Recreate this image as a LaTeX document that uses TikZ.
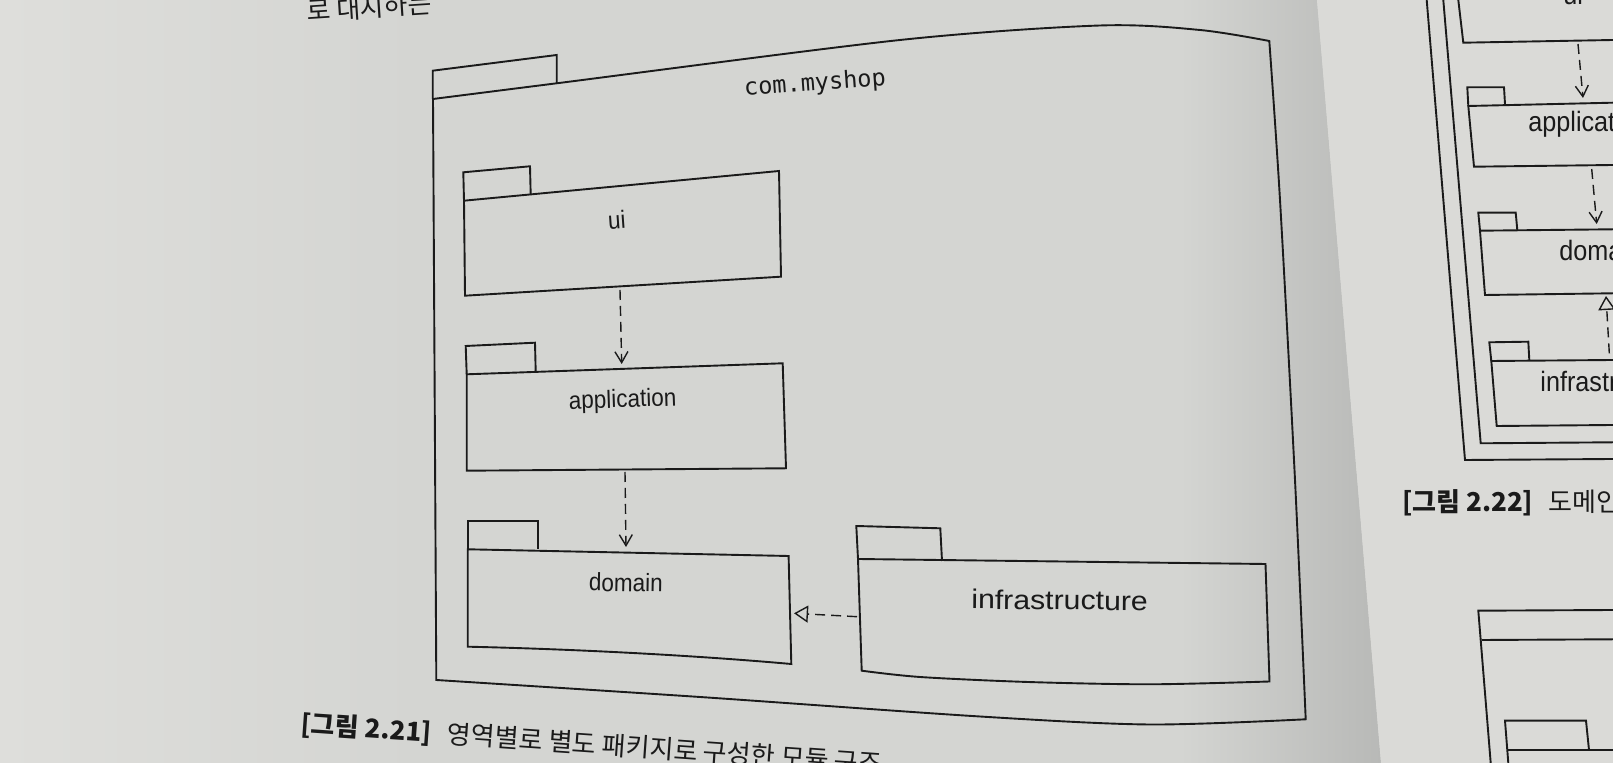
\documentclass[tikz,border=0pt]{standalone}
\usepackage{fontspec}
\setmainfont[FakeStretch=0.9]{Liberation Sans}
\newfontfamily\widesans[FakeStretch=1.12]{Liberation Sans}
\newfontfamily\pkgmono{DejaVu Sans Mono}
\newfontfamily\kr{Noto Sans CJK KR}
\usepackage{xcolor}
\usetikzlibrary{arrows.meta,calc}
\definecolor{paper}{RGB}{212,213,210}
\definecolor{paperlight}{RGB}{222,222,219}
\definecolor{gutter}{RGB}{184,185,183}
\definecolor{rightpage}{RGB}{218,218,215}
\definecolor{ink}{RGB}{26,26,26}

\begin{document}
\begin{tikzpicture}[x=0.5pt, y=-0.5pt, pkg/.style={draw=ink, line width=0.95pt, line join=miter}, dep/.style={draw=ink, line width=0.7pt, dash pattern=on 5pt off 3pt, -{Straight Barb[length=5.5pt, width=6.5pt]}}, impl/.style={draw=ink, line width=0.7pt, dash pattern=on 5pt off 3pt, -{Triangle[open, length=7pt, width=8.5pt]}}, lbl/.style={inner sep=0pt, text=ink, font=\fontsize{12.5}{15}\selectfont}, lbl2/.style={lbl, anchor=west, font=\fontsize{14}{16}\selectfont}, figcap/.style={inner sep=0pt, text=ink, font=\kr\fontsize{13}{15}\selectfont}]
\useasboundingbox (0,0) rectangle (1613,763);
\clip (0,0) rectangle (1613,763);
\fill[paper] (0,0) rectangle (1613,763);
\shade[left color=paperlight, right color=paper] (0,0) rectangle (420,763);
\shade[left color=paper, right color=gutter] (1180,0) -- (1317,0) -- (1381,763) -- (1180,763) -- cycle;
\fill[rightpage] (1317,0) -- (1613,0) -- (1613,763) -- (1381,763) -- cycle;

\node[figcap, anchor=base west, rotate=3.7] (toptext) at (307,21) {로 대지하는};

\draw[pkg] (432.7,99) -- (432.7,70.7) -- (556.7,55) -- (556.7,83.3);
\draw[pkg] (436.3,680) -- (433,99) -- plot[smooth, tension=0.5] coordinates {(433,99) (556.7,83.3) (900,40) (1100,25.5) (1200,30) (1269.3,41)} -- plot[smooth, tension=0.5] coordinates {(1269.3,41) (1280,200) (1295,480) (1305.7,719.3)} -- plot[smooth, tension=0.5] coordinates {(1305.7,719.3) (1150,724.5) (980,716.5) (700,697) (436.3,680)} -- cycle;
\node[lbl, rotate=4.2, font=\pkgmono\fontsize{11.8}{13}\selectfont] (myshop) at (815,84) {com.myshop};

\draw[pkg] (464,200.7) -- (463.3,172.3) -- (530,166.3) -- (530.7,195);
\draw[pkg] (464,200.7) -- (779,171) -- (781,276.7) -- (465,295.7) -- cycle;
\node[lbl, rotate=4] (ui) at (616.7,220) {ui};

\draw[pkg] (466.7,374.3) -- (465.7,346) -- (535,342.7) -- (535.7,371.7);
\draw[pkg] (466.7,374.3) -- (782.7,363.3) -- (786,468.3) -- (466.7,470.7) -- cycle;
\node[lbl, rotate=2] (app) at (622.7,401) {application};

\draw[pkg] (467.7,549.3) -- (467.7,520.7) -- (537.6,520.7) -- (537.6,549.3);
\draw[pkg] (467.7,549.3) -- (788.6,556) -- (791.3,664) .. controls (690,655) and (570,649) .. (467.7,646.7) -- cycle;
\node[lbl, rotate=-1] (dom) at (626,582.5) {domain};

\draw[pkg] (858,559) -- (856.3,526) -- (940.3,528.3) -- (942,561);
\draw[pkg] (858,559) -- (1265.5,564) -- (1269.5,681.5) -- plot[smooth, tension=0.5] coordinates {(1269.5,681.5) (1150,684.3) (1028,682) (920,677) (861.7,670.7)} -- cycle;
\node[lbl, rotate=-0.5, font=\widesans\fontsize{13.5}{16}\selectfont] (infra) at (1059.6,600) {infrastructure};

\coordinate (ui-s) at (620,290);
\coordinate (app-n) at (621.7,364);
\coordinate (app-s) at (625,472);
\coordinate (dom-n) at (626,547);
\coordinate (infra-w) at (857,616.7);
\coordinate (dom-e) at (794,613.3);
\draw[dep] (ui-s) -- (app-n);
\draw[dep] (app-s) -- (dom-n);
\draw[impl] (infra-w) -- (dom-e);

\node[figcap, anchor=base west, rotate=-4] (cap21) at (300,733) {\textbf{[그림 2.21]}\hspace{0.6em}영역별로 별도 패키지로 구성한 모듈 구조};

\draw[pkg] (1426.7,0) -- (1465,460) -- (1613,459);
\draw[pkg] (1443.3,0) -- (1480.7,443.3) -- (1613,442.3);
\draw[pkg] (1458.3,0) -- (1463.3,42.7) -- (1613,40);
\node[lbl2, anchor=base west] (ui2) at (1563,5) {ui};
\draw[pkg] (1468.3,106) -- (1467.3,87.3) -- (1504,87.3) -- (1505,104);
\draw[pkg] (1613,102.7) -- (1468.3,106) -- (1474,166.7) -- (1613,165);
\node[lbl2] (app2) at (1528,124) {application};
\draw[pkg] (1480,230.7) -- (1478.3,212.7) -- (1515.7,212.7) -- (1517.3,230);
\draw[pkg] (1613,229.3) -- (1480,230.7) -- (1485,295) -- (1613,293.3);
\node[lbl2] (dom2) at (1559,250) {domain};
\draw[pkg] (1491.3,361) -- (1489.3,342.3) -- (1528.3,341.7) -- (1529.3,360);
\draw[pkg] (1613,360) -- (1491.3,361) -- (1496.7,426) -- (1613,425);
\node[lbl2] (infra2) at (1540,381) {infrastructure};
\coordinate (ui2-s) at (1578,44);
\coordinate (app2-n) at (1583,98);
\coordinate (app2-s) at (1591.7,169);
\coordinate (dom2-n) at (1596.7,224);
\coordinate (infra2-n) at (1609.3,353.3);
\coordinate (dom2-s) at (1606,296);
\draw[dep] (ui2-s) -- (app2-n);
\draw[dep] (app2-s) -- (dom2-n);
\draw[impl] (infra2-n) -- (dom2-s);
\node[figcap, anchor=base west] (cap22) at (1401.7,512) {\textbf{[그림 2.22]}\hspace{0.6em}도메인};

\draw[pkg] (1613,610) -- (1478.3,610.7) -- (1490.7,763);
\draw[pkg] (1481.7,640) -- (1613,639.3);
\draw[pkg] (1508.3,763) -- (1505,720.7) -- (1586,720.7) -- (1589,750);
\draw[pkg] (1508.3,750) -- (1613,750);
\end{tikzpicture}
\end{document}
